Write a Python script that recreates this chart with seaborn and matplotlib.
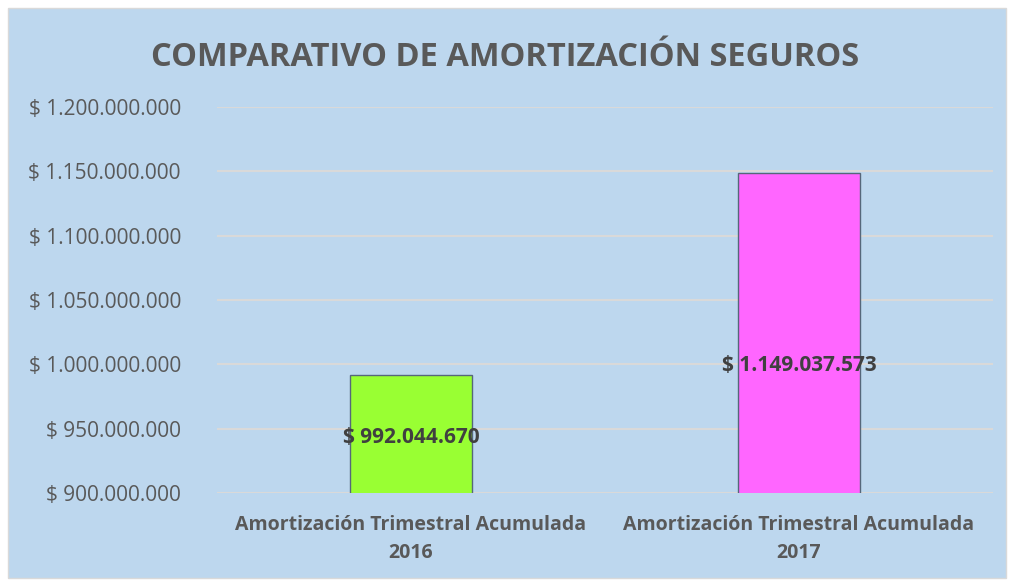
import matplotlib
matplotlib.use('Agg')
import pandas as pd
import seaborn as sns
import matplotlib.pyplot as plt
from matplotlib.ticker import FuncFormatter

# Data
categorias = ['Amortización Trimestral Acumulada\n2016', 'Amortización Trimestral Acumulada\n2017']
valores = [992044670, 1149037573]
colores = ['#99FF33', '#FF66FF']
etiquetas = ['$ 992.044.670', '$ 1.149.037.573']

df = pd.DataFrame({'cat': categorias, 'valor': valores})

sns.set_theme(style='white')
plt.rcParams['font.family'] = ['Open Sans', 'DejaVu Sans']

bg = '#BDD7EE'
fig = plt.figure(figsize=(10.1, 5.8), dpi=100, facecolor='white')
# light blue chart area inside a thin white border
fig.patches.append(plt.Rectangle((8 / 1010, 2 / 580), 998 / 1010, 570 / 580,
                                 transform=fig.transFigure, facecolor=bg,
                                 edgecolor='#D9D9D9', linewidth=1, zorder=-5))
ax = fig.add_axes([217 / 1010, 87 / 580, 776 / 1010, 386 / 580])
ax.set_facecolor(bg)

sns.barplot(data=df, x='cat', y='valor', hue='cat', palette=colores, saturation=1,
            width=0.315, edgecolor='#56677A', linewidth=1, legend=False, ax=ax, zorder=3)

ax.set_ylim(900000000, 1200000000)
ax.set_yticks(range(900000000, 1200000001, 50000000))
ax.yaxis.set_major_formatter(FuncFormatter(lambda v, p: '$ ' + f'{int(v):,}'.replace(',', '.')))
ax.grid(axis='y', color='#D9D9D9', linewidth=1.5, zorder=0)
ax.set_axisbelow(True)
for s in ax.spines.values():
    s.set_visible(False)

ax.tick_params(axis='y', labelsize=15, labelcolor='#595959', length=0, pad=26)
ax.tick_params(axis='x', labelsize=14, labelcolor='#595959', length=0, pad=16)
for t in ax.get_xticklabels():
    t.set_fontweight('bold')
    t.set_linespacing(1.5)
ax.set_xlabel('')
ax.set_ylabel('')

# data labels (vertical position as fraction of the axes)
pos_etiqueta = [0.145, 0.33]
for i, txt in enumerate(etiquetas):
    ax.text(i, pos_etiqueta[i], txt, transform=ax.get_xaxis_transform(),
            ha='center', va='center', fontsize=15, fontweight='bold', color='#404040', zorder=5)

fig.text(0.5, 1 - 57 / 580, 'COMPARATIVO DE AMORTIZACIÓN SEGUROS', ha='center', va='center',
         fontsize=23.5, fontweight='bold', color='#595959')

fig.savefig('out.png', dpi=100, facecolor='white')
